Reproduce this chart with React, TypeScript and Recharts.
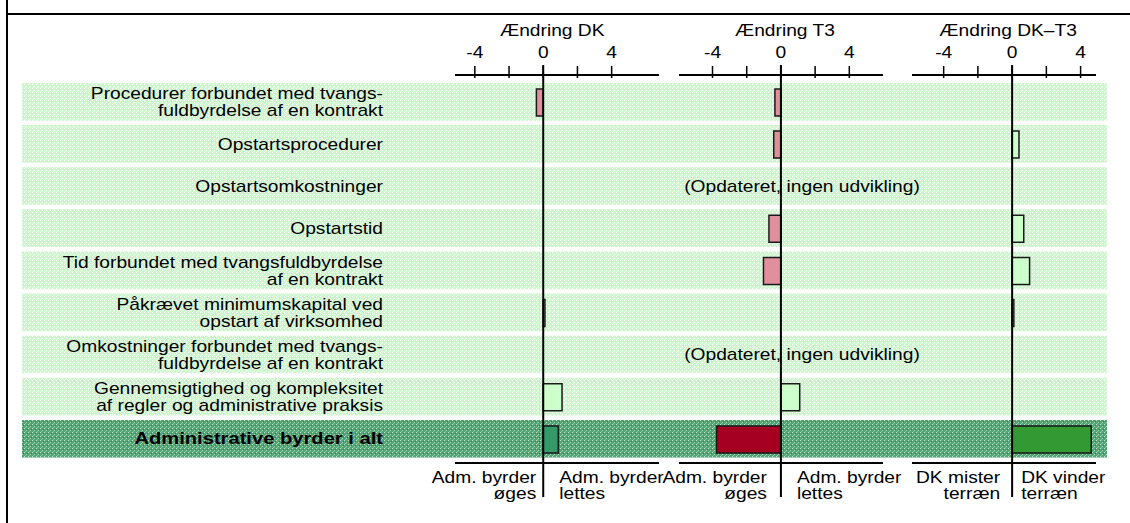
import React from 'react';
import { BarChart, Bar, XAxis, YAxis, Cell, ReferenceLine } from 'recharts';

// ---------- data ----------
const categories = [
  'Procedurer forbundet med tvangsfuldbyrdelse af en kontrakt',
  'Opstartsprocedurer',
  'Opstartsomkostninger',
  'Opstartstid',
  'Tid forbundet med tvangsfuldbyrdelse af en kontrakt',
  'Påkrævet minimumskapital ved opstart af virksomhed',
  'Omkostninger forbundet med tvangsfuldbyrdelse af en kontrakt',
  'Gennemsigtighed og kompleksitet af regler og administrative praksis',
  'Administrative byrder i alt',
];
const categoryLines = [
  ['Procedurer forbundet med tvangs-', 'fuldbyrdelse af en kontrakt'],
  ['Opstartsprocedurer'],
  ['Opstartsomkostninger'],
  ['Opstartstid'],
  ['Tid forbundet med tvangsfuldbyrdelse', 'af en kontrakt'],
  ['Påkrævet minimumskapital ved', 'opstart af virksomhed'],
  ['Omkostninger forbundet med tvangs-', 'fuldbyrdelse af en kontrakt'],
  ['Gennemsigtighed og kompleksitet', 'af regler og administrative praksis'],
  ['Administrative byrder i alt'],
];
const totalFlags = [false, false, false, false, false, false, false, false, true];
const notes = ['', '', '(Opdateret, ingen udvikling)', '', '', '', '(Opdateret, ingen udvikling)', '', ''];
const bandValues = [1, 1, 1, 1, 1, 1, 1, 1, 1];

const changeDK = [-0.4, null, null, null, null, 0.1, null, 1.1, 0.88];
const changeT3 = [-0.35, -0.42, null, -0.7, -1.02, null, null, 1.1, -3.76];
const changeDKT3 = [null, 0.4, null, 0.68, 1.02, 0.1, null, null, 4.62];

const axisTicks = [-4, -2, 0, 2, 4];
const labeledTicks = [-4, 0, 4];

const panelTitles = ['Ændring DK', 'Ændring T3', 'Ændring DK–T3'];
const leftBottomLabels = [['Adm. byrder', 'øges'], ['Adm. byrder', 'øges'], ['DK mister', 'terræn']];
const rightBottomLabels = [['Adm. byrder', 'lettes'], ['Adm. byrder', 'lettes'], ['DK vinder', 'terræn']];

const rows = categories.map((name, i) => ({
  name,
  band: bandValues[i],
  dk: changeDK[i],
  t3: changeT3[i],
  dkt3: changeDKT3[i],
}));

// ---------- styles / layout ----------
const W = 1130;
const H = 523;
const FONT = 'Liberation Sans, Arial, Helvetica, sans-serif';
const FS = 16;
const SX = 1.2;
const PINK = '#E0909C';
const LIGHT = '#CCFFCC';
const STROKE = '#1a1a1a';

const panels = [
  { key: 'dk', domain: [-5.16, 6.77], x0: 455, x1: 659, totalColor: '#339966', titleDx: 9, leftGap: 7, rightGap: 16 },
  { key: 't3', domain: [-5.96, 5.97], x0: 679, x1: 883, totalColor: '#A50021', titleDx: 4, leftGap: 14, rightGap: 16 },
  { key: 'dkt3', domain: [-5.85, 4.9], x0: 912, x1: 1096, totalColor: '#339933', titleDx: -4, leftGap: 12, rightGap: 9 },
];

const StretchText = ({ x, y, anchor, bold, children }: any) => (
  <g transform={`translate(${x},${y}) scale(${bold ? SX * 1.05 : SX},1)`}>
    <text
      x={0}
      y={0}
      textAnchor={anchor}
      fontFamily={FONT}
      fontSize={FS}
      fontWeight={bold ? 'bold' : 'normal'}
      fill="#000"
    >
      {children}
    </text>
  </g>
);

const CategoryTick = (props: any) => {
  const { y, payload } = props;
  const i = categories.indexOf(payload && payload.value);
  if (i < 0) return null;
  const lines = categoryLines[i];
  const lh = 17;
  const startY = y - ((lines.length - 1) * lh) / 2 + 5.5;
  const baseX = 22;
  return (
    <g>
      {lines.map((ln: string, k: number) => (
        <StretchText key={k} x={baseX + 361} y={startY + k * lh} anchor="end" bold={totalFlags[i]}>
          {ln}
        </StretchText>
      ))}
      {notes[i] ? (
        <StretchText x={baseX + 780} y={y + 5.5} anchor="middle">
          {notes[i]}
        </StretchText>
      ) : null}
    </g>
  );
};

const TopTick = (props: any) => {
  const { x, y, payload, pi } = props;
  const v = payload.value;
  const p = panels[pi];
  return (
    <g>
      <line x1={x} x2={x} y1={y - 9} y2={y + 3} stroke="#000" strokeWidth={1.5} />
      {labeledTicks.includes(v) ? (
        <StretchText x={x} y={y - 17} anchor="middle">
          {String(v)}
        </StretchText>
      ) : null}
      {v === 0 ? (
        <StretchText x={x + p.titleDx} y={y - 39} anchor="middle">
          {panelTitles[pi]}
        </StretchText>
      ) : null}
    </g>
  );
};

const BottomTick = (props: any) => {
  const { x, y, pi } = props;
  const p = panels[pi];
  const l = leftBottomLabels[pi];
  const r = rightBottomLabels[pi];
  return (
    <g>
      {l.map((t: string, k: number) => (
        <StretchText key={'l' + k} x={x - p.leftGap} y={y + 19.5 + k * 16.5} anchor="end">
          {t}
        </StretchText>
      ))}
      {r.map((t: string, k: number) => (
        <StretchText key={'r' + k} x={x + p.rightGap} y={y + 19.5 + k * 16.5} anchor="start">
          {t}
        </StretchText>
      ))}
    </g>
  );
};

const ZeroLine = (props: any) => {
  const { x1, y1, x2, y2 } = props;
  return <line x1={x1} x2={x2} y1={y1 - 10} y2={y2 + 34} stroke="#000" strokeWidth={2} />;
};

const barColor = (v: number | null, i: number, p: any) => {
  if (totalFlags[i]) return p.totalColor;
  return v != null && v < 0 ? PINK : LIGHT;
};

const BASE_MARGIN = { top: 81, bottom: 63, left: 22, right: 23 };

const BaseChart = () => (
  <BarChart layout="vertical" width={W} height={H} data={rows} margin={BASE_MARGIN} barSize={37.7}>
    <defs>
      <pattern id="lightDots" width="4" height="4" patternUnits="userSpaceOnUse">
        <rect width="4" height="4" fill="#d0f6d0" />
        <rect x="0" y="0" width="1" height="1" fill="#ffffff" />
        <rect x="2" y="2" width="1" height="1" fill="#f4fff4" />
        <rect x="3" y="1" width="1" height="1" fill="#c2efc2" />
        <rect x="1" y="3" width="1" height="1" fill="#eafcea" />
      </pattern>
      <pattern id="darkDots" width="4" height="4" patternUnits="userSpaceOnUse">
        <rect width="4" height="4" fill="#52a474" />
        <rect x="0" y="0" width="1" height="1" fill="#c2e4cc" />
        <rect x="2" y="2" width="1" height="1" fill="#a8d6b8" />
        <rect x="3" y="1" width="1" height="1" fill="#2e8456" />
        <rect x="1" y="3" width="1" height="1" fill="#88c49e" />
      </pattern>
    </defs>
    <XAxis type="number" domain={[0, 1]} hide allowDataOverflow />
    <YAxis type="category" dataKey="name" hide />
    <Bar dataKey="band" isAnimationActive={false}>
      {rows.map((r, i) => (
        <Cell key={i} fill={totalFlags[i] ? 'url(#darkDots)' : 'url(#lightDots)'} />
      ))}
    </Bar>
  </BarChart>
);

const LabelChart = () => (
  <BarChart layout="vertical" width={W} height={H} data={rows} margin={{ ...BASE_MARGIN, left: 12 }} barSize={37.7}>
    <XAxis type="number" domain={[0, 1]} hide allowDataOverflow />
    <YAxis
      type="category"
      dataKey="name"
      width={10}
      axisLine={false}
      tickLine={false}
      tickSize={0}
      tickMargin={0}
      interval={0}
      tick={(tp: any) => <CategoryTick {...tp} />}
    />
    <Bar dataKey="band" isAnimationActive={false} fill="none" />
  </BarChart>
);

const PanelChart = ({ pi }: { pi: number }) => {
  const p = panels[pi];
  return (
    <BarChart
      layout="vertical"
      width={W}
      height={H}
      data={rows}
      margin={{ top: 15, bottom: 10, left: p.x0, right: W - p.x1 }}
      barSize={27}
    >
      <XAxis
        xAxisId="top"
        orientation="top"
        type="number"
        domain={p.domain}
        ticks={axisTicks}
        allowDataOverflow
        height={60}
        tickSize={0}
        tickMargin={0}
        tickLine={false}
        axisLine={{ stroke: '#000', strokeWidth: 2 }}
        interval={0}
        tick={(tp: any) => <TopTick {...tp} pi={pi} />}
      />
      <XAxis
        xAxisId="bottom"
        orientation="bottom"
        type="number"
        domain={p.domain}
        ticks={[0]}
        allowDataOverflow
        height={50}
        tickSize={0}
        tickMargin={0}
        tickLine={false}
        axisLine={{ stroke: '#000', strokeWidth: 2 }}
        interval={0}
        tick={(tp: any) => <BottomTick {...tp} pi={pi} />}
      />
      <YAxis type="category" dataKey="name" hide padding={{ top: 6, bottom: 3 }} />
      <Bar dataKey={p.key} xAxisId="top" isAnimationActive={false} stroke={STROKE} strokeWidth={1.5}>
        {rows.map((r: any, i) => (
          <Cell key={i} fill={barColor(r[p.key], i, p)} />
        ))}
      </Bar>
      <ReferenceLine x={0} xAxisId="top" shape={<ZeroLine />} />
    </BarChart>
  );
};

export default function App() {
  return (
    <div style={{ position: 'absolute', left: 0, top: 0, width: W, height: H, background: '#fff', overflow: 'hidden' }}>
      <div style={{ position: 'absolute', left: 0, top: 0 }}>
        <BaseChart />
      </div>
      <div style={{ position: 'absolute', left: 0, top: 0 }}>
        <LabelChart />
      </div>
      {panels.map((p, pi) => (
        <div key={p.key} style={{ position: 'absolute', left: 0, top: 0 }}>
          <PanelChart pi={pi} />
        </div>
      ))}
      <div style={{ position: 'absolute', left: 6, top: 0, width: 2, height: H, background: '#000' }} />
      <div style={{ position: 'absolute', left: 6, top: 13, width: W - 6, height: 2, background: '#000' }} />
    </div>
  );
}
